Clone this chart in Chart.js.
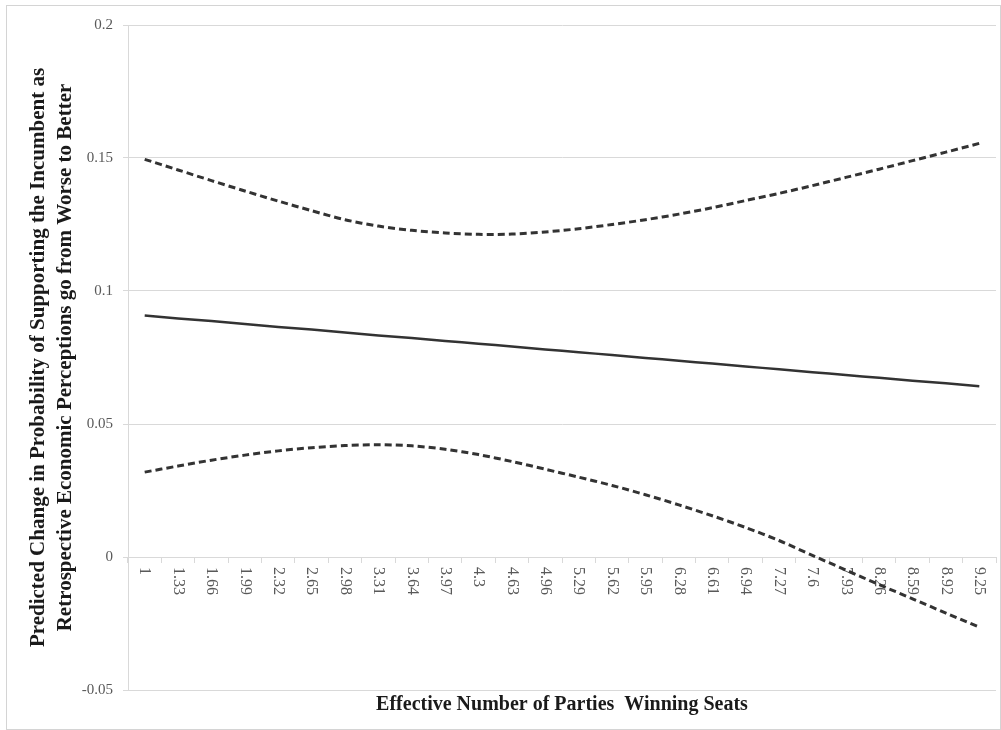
<!DOCTYPE html>
<html>
<head>
<meta charset="utf-8">
<script src="https://cdn.jsdelivr.net/npm/chart.js@4.4.1/dist/chart.umd.min.js"></script>
<style>
  html, body { margin: 0; padding: 0; background: #fff; }
  #wrap { position: relative; width: 1001px; height: 730px; }
  #frame { position: absolute; left: 6px; top: 5px; width: 993px; height: 723px; border: 1px solid #d4d4d4; }
  canvas { position: absolute; left: 0; top: 0; }
</style>
</head>
<body>
<div id="wrap">
  <div id="frame"></div>
  <canvas id="main-canvas"></canvas>
</div>
<script>
// category labels along the x axis (effective number of parties)
const xLabels = ['1', '1.33', '1.66', '1.99', '2.32', '2.65', '2.98', '3.31', '3.64', '3.97',
  '4.3', '4.63', '4.96', '5.29', '5.62', '5.95', '6.28', '6.61', '6.94', '7.27',
  '7.6', '7.93', '8.26', '8.59', '8.92', '9.25'];

// predicted change (solid line)
const predicted = [0.0908, 0.0897, 0.0887, 0.0876, 0.0865, 0.0855, 0.0844, 0.0833, 0.0823, 0.0812,
  0.0802, 0.0791, 0.0780, 0.0770, 0.0759, 0.0748, 0.0738, 0.0727, 0.0716, 0.0706,
  0.0695, 0.0684, 0.0674, 0.0663, 0.0653, 0.0642];

// upper bound (dashed)
const upperBound = [0.1495, 0.1455, 0.1415, 0.1376, 0.1338, 0.1302, 0.1268, 0.1244, 0.1228, 0.1218,
  0.1213, 0.1214, 0.1222, 0.1234, 0.1250, 0.1268, 0.1289, 0.1313, 0.1340, 0.1367,
  0.1396, 0.1427, 0.1458, 0.1490, 0.1522, 0.1555];

// lower bound (dashed)
const lowerBound = [0.0319, 0.0342, 0.0364, 0.0383, 0.0399, 0.0411, 0.0419, 0.0422, 0.0418, 0.0405,
  0.0385, 0.0359, 0.0330, 0.0300, 0.0269, 0.0234, 0.0196, 0.0155, 0.0111, 0.0062,
  0.0006, -0.0049, -0.0104, -0.0157, -0.0211, -0.0264];

const yMin = -0.05, yMax = 0.2, yStep = 0.05;

const gridColor = '#d9d9d9';
const tickColor = '#595959';
const serif = '"Liberation Serif", "Times New Roman", serif';

// x labels read top-to-bottom under the zero line, like the original
const xLabelPlugin = {
    id: 'xLabels',
    beforeDatasetsDraw: chart => {
        const xs = chart.scales.x;
        const ys = chart.scales.y;
        const ctx = chart.ctx;
        const top = ys.getPixelForValue(0) + 10;
        ctx.save();
        ctx.font = '16px ' + serif;
        ctx.fillStyle = tickColor;
        ctx.textAlign = 'left';
        ctx.textBaseline = 'middle';
        xs.ticks.forEach((t, i) => {
            const x = xs.getPixelForTick(i);
            ctx.save();
            ctx.translate(x, top);
            ctx.rotate(Math.PI / 2);
            ctx.fillText(xLabels[i], 0, 0);
            ctx.restore();
        });
        ctx.restore();
    }
};

const canvas = document.getElementById('main-canvas');
canvas.width = 1001;
canvas.height = 730;
const ctx = canvas.getContext('2d');

const myChart = new Chart(ctx, {
    type: 'line',
    plugins: [xLabelPlugin],
    data: {
        labels: xLabels,
        datasets: [{
            label: 'Upper',
            data: upperBound,
            borderColor: '#333333',
            borderWidth: 3,
            borderDash: [7, 4],
            pointRadius: 0,
            tension: 0.3,
            fill: false
        },
        {
            label: 'Predicted',
            data: predicted,
            borderColor: '#333333',
            borderWidth: 2.5,
            pointRadius: 0,
            tension: 0.3,
            fill: false
        },
        {
            label: 'Lower',
            data: lowerBound,
            borderColor: '#333333',
            borderWidth: 3,
            borderDash: [7, 4],
            pointRadius: 0,
            tension: 0.3,
            fill: false
        }]
    },
    options: {
        responsive: false,
        animation: false,
        layout: {
            padding: { left: 0, right: 5, top: 25, bottom: 0 }
        },
        plugins: {
            legend: { display: false },
            tooltip: { enabled: false },
            title: {
                display: true,
                position: 'bottom',
                fullSize: false,
                text: 'Effective Number of Parties  Winning Seats',
                color: '#1a1a1a',
                font: { family: serif, size: 20, weight: 'bold', lineHeight: 1.2 },
                padding: { top: 3, bottom: 13 }
            }
        },
        scales: {
            x: {
                type: 'category',
                position: { y: 0 },
                offset: true,
                grid: {
                    offset: true,
                    drawOnChartArea: false,
                    drawTicks: true,
                    tickLength: 5,
                    color: gridColor
                },
                border: { display: true, color: gridColor },
                ticks: { display: false }
            },
            y: {
                min: yMin,
                max: yMax,
                afterFit: scale => { scale.width = 128; },
                afterBuildTicks: axis => {
                    const t = [];
                    for (let v = yMin; v <= yMax + 1e-9; v += yStep) t.push({ value: Number(v.toFixed(2)) });
                    axis.ticks = t;
                },
                grid: {
                    color: gridColor,
                    tickLength: 5
                },
                border: { display: true, color: gridColor },
                ticks: {
                    padding: 10,
                    color: tickColor,
                    font: { family: serif, size: 15 },
                    callback: v => String(Number(v.toFixed(2)))
                },
                title: {
                    display: true,
                    text: ['Predicted Change in Probability of Supporting the Incumbent as',
                        'Retrospective Economic Perceptions go from Worse to Better'],
                    color: '#1a1a1a',
                    font: { family: serif, size: 21, weight: 'bold', lineHeight: 1.3 },
                    padding: { top: 25, bottom: 0 }
                }
            }
        }
    }
});
</script>
</body>
</html>
